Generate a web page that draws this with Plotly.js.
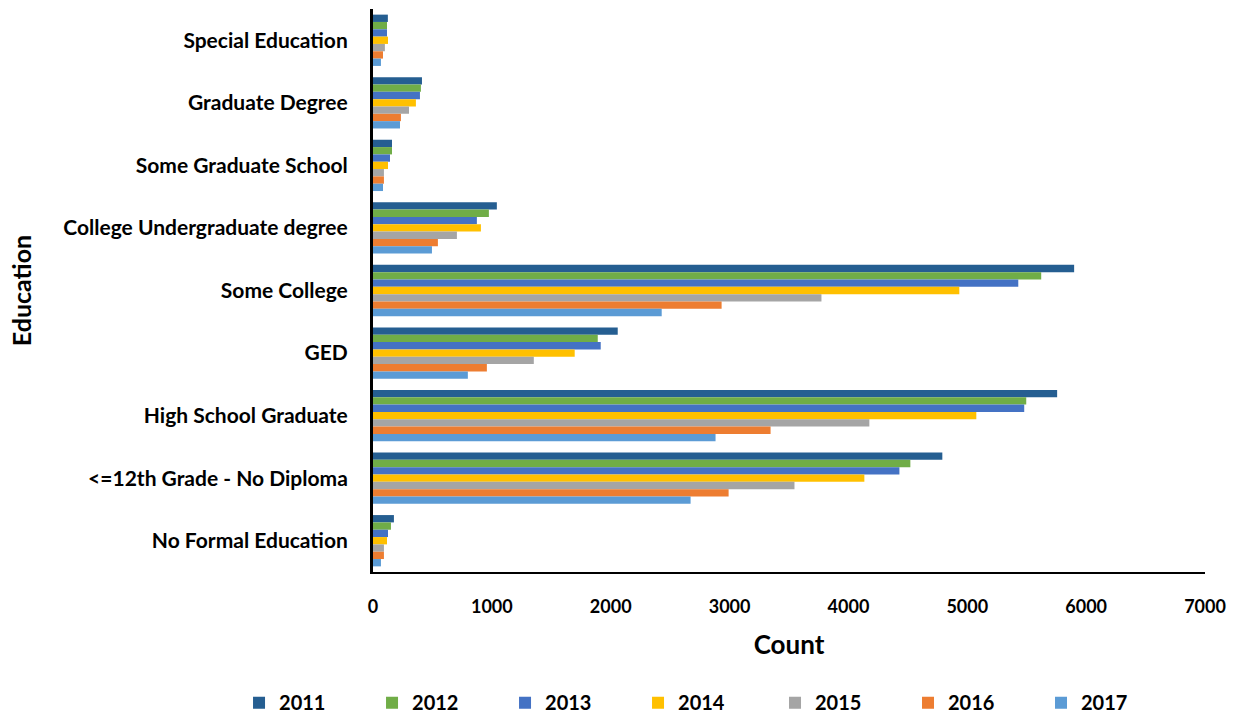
<!DOCTYPE html>
<html>
<head>
<meta charset="utf-8">
<script src="https://cdn.plot.ly/plotly-3.0.1.min.js"></script>
<style>html,body{margin:0;padding:0;background:#fff;}#chart{width:1243px;height:717px;}</style>
</head>
<body>
<div id="chart"></div>
<script>
const categories = ["Special Education","Graduate Degree","Some Graduate School","College Undergraduate degree","Some College","GED","High School Graduate","<=12th Grade - No Diploma","No Formal Education"];
const years = ["2011","2012","2013","2014","2015","2016","2017"];
const v2011 = [125, 412, 160, 1042, 5899, 2059, 5756, 4790, 176];
const v2012 = [118, 403, 160, 975, 5622, 1891, 5496, 4521, 151];
const v2013 = [118, 395, 143, 874, 5429, 1916, 5479, 4429, 126];
const v2014 = [126, 361, 126, 908, 4933, 1697, 5076, 4134, 118];
const v2015 = [100, 303, 92, 706, 3773, 1353, 4176, 3546, 92];
const v2016 = [84, 235, 92, 546, 2933, 958, 3345, 2992, 92];
const v2017 = [67, 227, 84, 496, 2429, 798, 2882, 2672, 67];
const series = [v2011, v2012, v2013, v2014, v2015, v2016, v2017];
const colors = ["#255E91","#70AD47","#4472C4","#FFC000","#A5A5A5","#ED7D31","#5B9BD5"];

const FONT = "Lato, 'Open Sans', sans-serif";
const data = series.map((vals, i) => ({
  type: "bar",
  orientation: "h",
  name: years[i],
  x: vals,
  y: categories,
  marker: {color: colors[i]},
  legend: i < 4 ? "legend" : "legend2",
  hoverinfo: "x+name"
}));

const legendBase = {
  orientation: "h",
  xref: "container", yref: "container",
  xanchor: "left",
  y: 0.02, yanchor: "middle",
  entrywidth: 88,
  entrywidthmode: "pixels",
  bgcolor: "rgba(0,0,0,0)",
  font: {size: 20, family: FONT, weight: "bold", color: "#000"},
  traceorder: "normal"
};

const layout = {
  width: 1243, height: 717,
  margin: {l: 373, r: 38, t: 9, b: 145},
  paper_bgcolor: "#fff", plot_bgcolor: "#fff",
  barmode: "group",
  bargap: 0.18,
  bargroupgap: 0,
  font: {family: FONT, color: "#000", weight: "bold"},
  showlegend: true,
  legend: Object.assign({}, legendBase, {x: 0.1923}),
  legend2: Object.assign({}, legendBase, {x: 0.6235}),
  xaxis: {
    range: [0, 7000],
    dtick: 1000,
    tick0: 0,
    showgrid: false,
    zeroline: false,
    showline: true,
    linecolor: "#000",
    linewidth: 2,
    ticks: "",
    ticklabelstandoff: 17,
    tickfont: {size: 18, family: FONT, weight: "bold", color: "#000"},
    title: {text: "Count", font: {size: 26, family: FONT, weight: "bold", color: "#000"}, standoff: 20},
    automargin: false,
    fixedrange: true
  },
  yaxis: {
    type: "category",
    autorange: "reversed",
    showgrid: false,
    zeroline: false,
    showline: true,
    linecolor: "#000",
    linewidth: 3,
    ticks: "",
    ticklabelstandoff: 18,
    tickfont: {size: 21, family: FONT, weight: "bold", color: "#000"},
    title: {text: "Education", font: {size: 25, family: FONT, weight: "bold", color: "#000"}, standoff: 25},
    automargin: false,
    fixedrange: true
  }
};

Plotly.newPlot("chart", data, layout, {displayModeBar: false, staticPlot: true});
</script>
</body>
</html>
